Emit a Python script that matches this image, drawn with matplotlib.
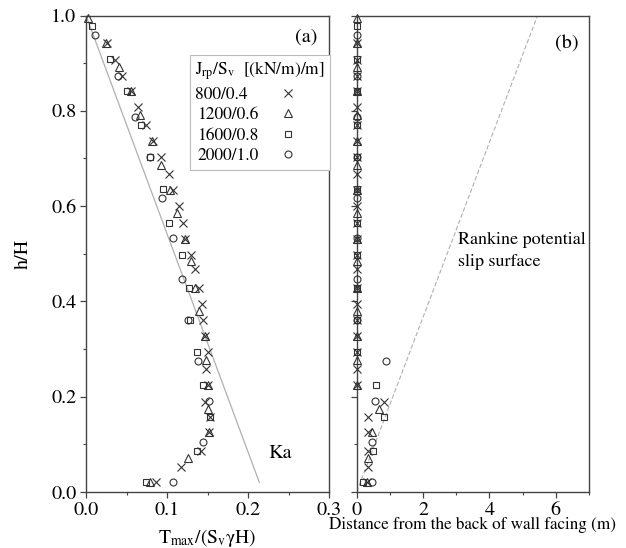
"""
Max reinforcement load and slip surface - two panel figure
"""

import matplotlib
matplotlib.use('Agg')
import matplotlib.pyplot as plt
from matplotlib.ticker import MultipleLocator

plt.rcParams['font.family'] = ['STIXGeneral', 'DejaVu Serif']
plt.rcParams['mathtext.fontset'] = 'stix'

INK = '#333333'
SPINE = '#444444'
GUIDE = '#b0b0b0'

# Series labels (J_rp / S_v); figure space keeps the short one left-aligned
labels = ['800/0.4\u2007', '1200/0.6', '1600/0.8', '2000/1.0']
markers = ['x', '^', 's', 'o']
msizes = [5.5, 5.5, 4.5, 5.0]

# 800/0.4
h_x = [0.943, 0.906, 0.874, 0.841, 0.808, 0.771, 0.736, 0.703, 0.668, 0.633,
       0.600, 0.565, 0.532, 0.498, 0.467, 0.429, 0.394, 0.361, 0.327, 0.294,
       0.258, 0.224, 0.189, 0.157, 0.125, 0.086, 0.053, 0.020]
t_x = [0.026, 0.036, 0.045, 0.055, 0.064, 0.074, 0.083, 0.093, 0.102, 0.108,
       0.115, 0.120, 0.122, 0.130, 0.135, 0.140, 0.143, 0.144, 0.147, 0.151,
       0.148, 0.150, 0.147, 0.153, 0.152, 0.142, 0.117, 0.086]
d_x = [0, 0, 0, 0, 0, 0, 0, 0, 0, 0,
       0, 0, 0, 0, 0, 0, 0, 0, 0, 0,
       0, 0, 0.82, 0.35, 0.35, 0.33, 0.35, 0.30]

# 1200/0.6
h_t = [0.995, 0.943, 0.892, 0.841, 0.792, 0.736, 0.687, 0.633, 0.586, 0.532,
       0.484, 0.429, 0.379, 0.327, 0.277, 0.224, 0.174, 0.125, 0.072, 0.020]
t_t = [0.002, 0.025, 0.041, 0.055, 0.067, 0.081, 0.092, 0.104, 0.112, 0.122,
       0.130, 0.135, 0.140, 0.147, 0.148, 0.150, 0.150, 0.152, 0.126, 0.079]
d_t = [0, 0, 0, 0, 0, 0, 0, 0, 0, 0,
       0, 0, 0, 0, 0, 0, 0.67, 0.45, 0.35, 0.30]

# 1600/0.8
h_s = [0.977, 0.908, 0.841, 0.771, 0.703, 0.635, 0.565, 0.498, 0.429, 0.362,
       0.293, 0.224, 0.157, 0.087, 0.020]
t_s = [0.007, 0.030, 0.051, 0.068, 0.079, 0.095, 0.102, 0.119, 0.127, 0.128,
       0.137, 0.145, 0.153, 0.137, 0.074]
d_s = [0, 0, 0, 0, 0, 0, 0, 0, 0, 0,
       0, 0.58, 0.83, 0.48, 0.20]

# 2000/1.0
h_c = [0.959, 0.874, 0.788, 0.703, 0.617, 0.533, 0.447, 0.362, 0.275, 0.191,
       0.104, 0.020]
t_c = [0.011, 0.039, 0.060, 0.079, 0.094, 0.108, 0.119, 0.126, 0.138, 0.152,
       0.144, 0.107]
d_c = [0, 0, 0, 0, 0, 0, 0, 0, 0.88, 0.55, 0.45, 0.45]

heights = [h_x, h_t, h_s, h_c]
tmax = [t_x, t_t, t_s, t_c]
disp = [d_x, d_t, d_s, d_c]

# Reference lines
ka_t = [0.0, 0.214]
ka_h = [1.0, 0.020]
rankine_d = [0.0, 5.45]
rankine_h = [0.0, 1.0]

fig = plt.figure(figsize=(6.26, 5.48), dpi=100, facecolor='white')
ax1 = fig.add_axes([0.1374, 0.1022, 0.3882, 0.8695])
ax2 = fig.add_axes([0.5698, 0.1022, 0.3711, 0.8695])


def style(ax):
    for s in ax.spines.values():
        s.set_color(SPINE)
        s.set_linewidth(1.0)
    ax.tick_params(which='both', direction='out', color=SPINE,
                   top=False, right=False, labelsize=14.5, labelcolor='black')
    ax.tick_params(which='major', length=4, width=0.9, pad=3)
    ax.tick_params(which='minor', length=2.5, width=0.8)


# Panel (a)
ax1.plot(ka_t, ka_h, color=GUIDE, lw=0.9, zorder=1)
for h, t, m, ms, lab in zip(heights, tmax, markers, msizes, labels):
    ax1.plot(t, h, linestyle='none', marker=m, ms=ms, mfc='none', mec=INK,
             mew=0.8, label=lab, clip_on=False, zorder=3)
ax1.set_xlim(0, 0.3)
ax1.set_ylim(0, 1.0)
ax1.xaxis.set_major_locator(MultipleLocator(0.1))
ax1.xaxis.set_minor_locator(MultipleLocator(0.05))
ax1.yaxis.set_major_locator(MultipleLocator(0.2))
ax1.yaxis.set_minor_locator(MultipleLocator(0.1))
ax1.xaxis.set_major_formatter(plt.FormatStrFormatter('%.1f'))
ax1.yaxis.set_major_formatter(plt.FormatStrFormatter('%.1f'))
style(ax1)
ax1.set_ylabel('h/H', fontsize=14.5, labelpad=14)
ax1.set_xlabel(r'T$_{\rm max}$/(S$_{\rm v}$γH)', fontsize=14, labelpad=6)
ax1.text(0.225, 0.081, 'Ka', fontsize=14.5, ha='left', va='center')
ax1.text(0.272, 0.954, '(a)', fontsize=14.5, ha='center', va='center')

leg = ax1.legend(loc='upper left', bbox_to_anchor=(0.428, 0.918),
                 borderaxespad=0, markerfirst=False, fontsize=12.5,
                 title=r'J$_{\rm rp}$/S$_{\rm v}$  [(kN/m)/m]',
                 title_fontsize=12.5, alignment='left', fancybox=False,
                 framealpha=1, edgecolor='#bbbbbb', labelspacing=0.25,
                 handletextpad=0.8, handlelength=1.8, borderpad=0.3)
leg.get_frame().set_linewidth(0.8)

# Panel (b)
ax2.plot(rankine_d, rankine_h, color=GUIDE, lw=0.8, linestyle=(0, (4, 2)),
         zorder=1)
for h, d, m, ms in zip(heights, disp, markers, msizes):
    ax2.plot(d, h, linestyle='none', marker=m, ms=ms, mfc='none', mec=INK,
             mew=0.8, clip_on=False, zorder=3)
ax2.set_xlim(0, 7)
ax2.set_ylim(0, 1.0)
ax2.xaxis.set_major_locator(MultipleLocator(2))
ax2.xaxis.set_minor_locator(MultipleLocator(1))
ax2.yaxis.set_major_locator(MultipleLocator(0.2))
ax2.yaxis.set_minor_locator(MultipleLocator(0.1))
style(ax2)
ax2.tick_params(axis='y', labelleft=False)
ax2.set_xlabel('Distance from the back of wall facing (m)', fontsize=12.3,
               labelpad=-1)
ax2.text(3.06, 0.528, 'Rankine potential', fontsize=13, ha='left',
         va='center')
ax2.text(3.06, 0.482, 'slip surface', fontsize=13, ha='left', va='center')
ax2.text(6.33, 0.94, '(b)', fontsize=14.5, ha='center', va='center')

plt.savefig('out.png', dpi=100, facecolor='white')
plt.close()
